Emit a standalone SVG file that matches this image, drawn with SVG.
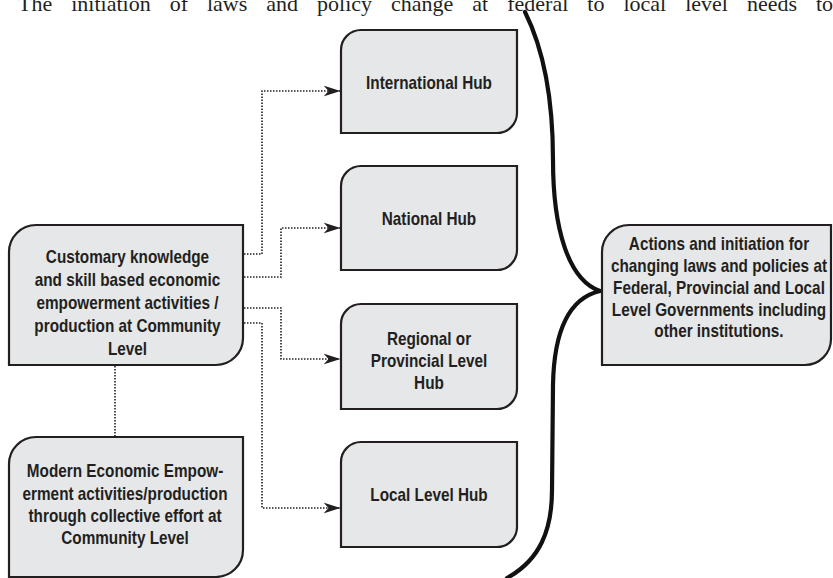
<svg xmlns="http://www.w3.org/2000/svg" width="833" height="578" viewBox="0 0 833 578">
<style>
  .box { fill: #e6e7e8; stroke: #231f20; stroke-width: 2.2; }
  .lbl { font-family: "Liberation Sans", Arial, sans-serif; font-weight: bold; font-size: 17.5px; fill: #231f20; text-anchor: middle; }
  .dot { fill: none; stroke: #231f20; stroke-width: 1.6; stroke-dasharray: 1.5 1.5; }
  .brace { fill: none; stroke: #111; stroke-width: 4.2; stroke-linecap: round; stroke-linejoin: miter; }
  .head { font-family: "Liberation Serif", "Times New Roman", serif; font-size: 22px; fill: #231f20; word-spacing: 13.5px; }
</style>
<defs>
  <marker id="arr" markerUnits="userSpaceOnUse" viewBox="0 0 17 12" refX="16.5" refY="6" markerWidth="17" markerHeight="12" orient="auto">
    <path d="M0,0.5 L17,6 L0,11.5 L5,6 Z" fill="#231f20"/>
  </marker>
</defs>
<rect width="833" height="578" fill="#ffffff"/>
<text class="head" x="18" y="11">The initiation of laws and policy change at federal to local level needs to</text>

<g id="connectors">
  <path class="dot" d="M244,254 H262 V91 H340" marker-end="url(#arr)"/>
  <path class="dot" d="M244,277 H281 V228 H340" marker-end="url(#arr)"/>
  <path class="dot" d="M244,308 H281 V359 H340" marker-end="url(#arr)"/>
  <path class="dot" d="M244,323 H262 V508 H340" marker-end="url(#arr)"/>
  <path class="dot" d="M115,366 V436"/>
  <path id="brace" class="brace" d="M525,12 C540,42 553,90 553,160 C553,228 568,280 600,291 C570,298 554,330 553,385 L552,490 C552,530 540,560 507,578"/>
</g>

<g id="international">
  <path class="box" d="M341,50 A20,20 0 0 1 361,30 H517 V113 A20,20 0 0 1 497,133 H341 Z"/>
  <text class="lbl" transform="scale(0.875,1)" x="490.3" y="89">International Hub</text>
</g>
<g id="national">
  <path class="box" d="M341,186 A20,20 0 0 1 361,166 H517 V250 A20,20 0 0 1 497,270 H341 Z"/>
  <text class="lbl" transform="scale(0.875,1)" x="490.3" y="225">National Hub</text>
</g>
<g id="regional">
  <path class="box" d="M341,324 A20,20 0 0 1 361,304 H517 V389 A20,20 0 0 1 497,409 H341 Z"/>
  <text class="lbl" transform="scale(0.875,1)" x="490.3" y="345">Regional or</text>
  <text class="lbl" transform="scale(0.875,1)" x="490.3" y="367">Provincial Level</text>
  <text class="lbl" transform="scale(0.875,1)" x="490.3" y="389">Hub</text>
</g>
<g id="local">
  <path class="box" d="M341,462 A20,20 0 0 1 361,442 H517 V527 A20,20 0 0 1 497,547 H341 Z"/>
  <text class="lbl" transform="scale(0.875,1)" x="490.3" y="501">Local Level Hub</text>
</g>
<g id="customary">
  <path class="box" d="M9,252 A27,27 0 0 1 36,225 H243 V338 A27,27 0 0 1 216,365 H9 Z"/>
  <text class="lbl" transform="scale(0.875,1)" x="145.7" y="263">Customary knowledge</text>
  <text class="lbl" transform="scale(0.875,1)" x="145.7" y="286">and skill based economic</text>
  <text class="lbl" transform="scale(0.875,1)" x="145.7" y="309">empowerment activities /</text>
  <text class="lbl" transform="scale(0.875,1)" x="145.7" y="332">production at Community</text>
  <text class="lbl" transform="scale(0.875,1)" x="145.7" y="355">Level</text>
</g>
<g id="modern">
  <path class="box" d="M9,464 A27,27 0 0 1 36,437 H243 V550 A27,27 0 0 1 216,577 H9 Z"/>
  <text class="lbl" transform="scale(0.875,1)" x="142.9" y="477">Modern Economic Empow-</text>
  <text class="lbl" transform="scale(0.875,1)" x="142.9" y="500">erment activities/production</text>
  <text class="lbl" transform="scale(0.875,1)" x="142.9" y="522">through collective effort at</text>
  <text class="lbl" transform="scale(0.875,1)" x="142.9" y="544">Community Level</text>
</g>
<g id="actions">
  <path class="box" d="M602,252 A27,27 0 0 1 629,225 H831 V339 A26,26 0 0 1 805,365 H602 Z"/>
  <text class="lbl" transform="scale(0.875,1)" x="821.7" y="250">Actions and initiation for</text>
  <text class="lbl" transform="scale(0.875,1)" x="821.7" y="272">changing laws and policies at</text>
  <text class="lbl" transform="scale(0.875,1)" x="821.7" y="294">Federal, Provincial and Local</text>
  <text class="lbl" transform="scale(0.875,1)" x="821.7" y="316">Level Governments including</text>
  <text class="lbl" transform="scale(0.875,1)" x="821.7" y="337">other institutions.</text>
</g>
</svg>
